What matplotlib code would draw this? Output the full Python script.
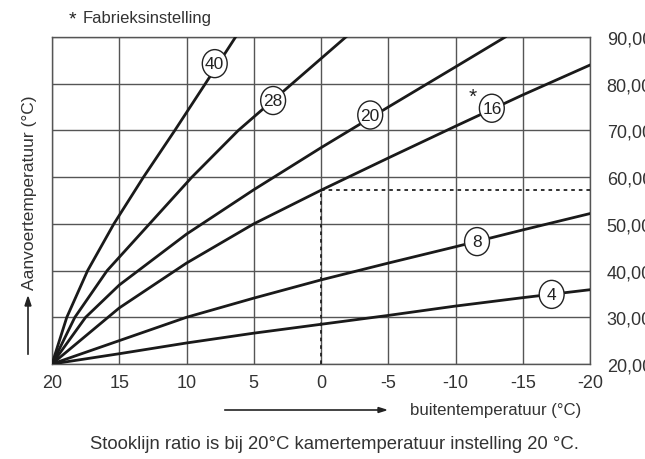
import matplotlib
matplotlib.use("Agg")
import matplotlib.pyplot as plt
from matplotlib.patches import Ellipse

plt.rcParams['font.family'] = ['Liberation Sans', 'DejaVu Sans']

# buitentemperatuur (x) en aanvoertemperatuur (y) per stooklijn
x4 = [20, 15, 10, 5, 0, -5, -10, -15, -20]
y4 = [20, 22.2, 24.5, 26.6, 28.5, 30.4, 32.4, 34.2, 35.9]
x8 = [20, 15, 10, 5, 0, -5, -10, -15, -20]
y8 = [20, 25.0, 30.0, 34.1, 38.0, 41.6, 45.1, 48.7, 52.2]
x16 = [20, 15, 10, 5, 0, -5, -10, -15, -20]
y16 = [20, 32.0, 41.6, 50.0, 57.2, 64.1, 70.9, 77.6, 84.0]
x20 = [20, 17.5, 15, 10, 5, 0, -5, -10, -13.7]
y20 = [20, 30, 36.9, 47.8, 57.3, 66.3, 75.0, 83.6, 90]
x28 = [20, 18.3, 15.9, 12.75, 9.6, 6.15, 2.15, -1.85]
y28 = [20, 30, 40, 50, 60, 70, 80, 90]
x40 = [20, 18.9, 17.35, 15.4, 13.2, 10.87, 8.6, 6.35]
y40 = [20, 30, 40, 50, 60, 70, 80, 90]

curves = [(x4, y4), (x8, y8), (x16, y16), (x20, y20), (x28, y28), (x40, y40)]
labels = ['4', '8', '16', '20', '28', '40']
label_pos = [(-17.15, 34.9), (-11.6, 46.2), (-12.7, 74.75), (-3.66, 73.3), (3.56, 76.4), (7.9, 84.3)]

factory_x = 0
factory_y = 57.2

xticks = [20, 15, 10, 5, 0, -5, -10, -15, -20]
yticks = [20, 30, 40, 50, 60, 70, 80, 90]
ytick_labels = ['20,00', '30,00', '40,00', '50,00', '60,00', '70,00', '80,00', '90,00']

W, H = 645, 460
fig = plt.figure(figsize=(W / 100, H / 100), dpi=100)
ax = fig.add_axes([52 / W, 1 - 365 / H, 538 / W, 327 / H])

ax.set_xlim(20, -20)
ax.set_ylim(20, 90)
ax.set_xticks(xticks)
ax.set_xticklabels([str(t) for t in xticks])
ax.set_yticks(yticks)
ax.set_yticklabels(ytick_labels)
ax.yaxis.tick_right()
ax.tick_params(axis='both', length=0, labelsize=13, colors='#333333')
ax.tick_params(axis='x', pad=7)
ax.tick_params(axis='y', pad=12)
ax.grid(True, color='#555555', linewidth=1.0)
for s in ax.spines.values():
    s.set_color('#555555')
    s.set_linewidth(1.0)

# fabrieksinstelling: stippellijnen
ax.plot([factory_x, factory_x], [20, factory_y], color='#222222', lw=1.3, ls=(0, (2, 2.2)), zorder=3)
ax.plot([factory_x, -20], [factory_y, factory_y], color='#222222', lw=1.3, ls=(0, (2, 2.2)), zorder=3)

for (xs, ys) in curves:
    ax.plot(xs, ys, color='#1a1a1a', lw=2.0, solid_joinstyle='round', zorder=4)

for lab, (lx, ly) in zip(labels, label_pos):
    ax.add_patch(Ellipse((lx, ly), 1.85, 6.0, facecolor='white', edgecolor='#222222', lw=1.0, zorder=5))
    ax.text(lx, ly, lab, ha='center', va='center', fontsize=12.5, color='#222222', zorder=6)

ax.text(-11.3, 77.4, '*', ha='center', va='center', fontsize=15, color='#222222', zorder=6)

fig.text(72 / W, 1 - 20 / H, '*', ha='center', va='center', fontsize=14, color='#222222')
fig.text(83 / W, 1 - 19 / H, 'Fabrieksinstelling', ha='left', va='center', fontsize=12, color='#333333')

fig.text(30 / W, 1 - 193 / H, 'Aanvoertemperatuur (°C)', rotation=90, ha='center', va='center',
         fontsize=12.5, color='#333333')
fig.add_artist(plt.Line2D([28 / W, 28 / W], [1 - 355 / H, 1 - 305 / H], color='#222222', lw=1.2))
fig.patches.append(plt.Polygon([[25 / W, 1 - 307 / H], [31 / W, 1 - 307 / H], [28 / W, 1 - 298 / H]],
                               closed=True, color='#222222', transform=fig.transFigure, figure=fig))

fig.text(410 / W, 1 - 411 / H, 'buitentemperatuur (°C)', ha='left', va='center', fontsize=12.1, color='#333333')
fig.add_artist(plt.Line2D([225 / W, 380 / W], [1 - 411 / H, 1 - 411 / H], color='#222222', lw=1.2))
fig.patches.append(plt.Polygon([[378 / W, 1 - 408.5 / H], [378 / W, 1 - 413.5 / H], [386 / W, 1 - 411 / H]],
                               closed=True, color='#222222', transform=fig.transFigure, figure=fig))

fig.text(334 / W, 1 - 445 / H, 'Stooklijn ratio is bij 20°C kamertemperatuur instelling 20 °C.',
         ha='center', va='center', fontsize=13.3, color='#333333')

fig.savefig('out.png', dpi=100)
